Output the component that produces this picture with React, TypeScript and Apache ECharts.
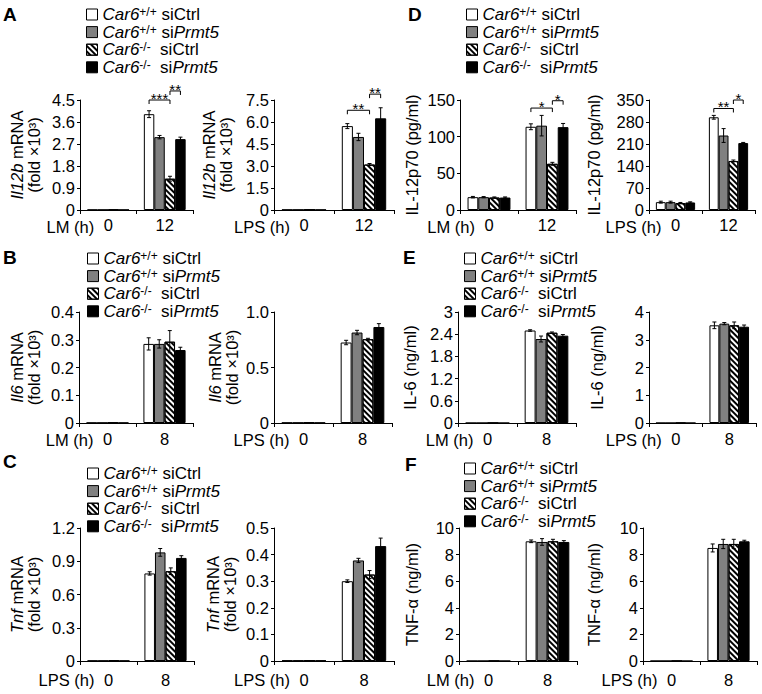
import React, { useEffect, useRef } from 'react';
import * as echarts from 'echarts';

const FONT = '"Liberation Sans", Arial, Helvetica, sans-serif';

const GROUPS = ['Car6+/+ siCtrl', 'Car6+/+ siPrmt5', 'Car6-/- siCtrl', 'Car6-/- siPrmt5'];
const GROUP_RICH: Record<string, string> = {
  'Car6+/+ siCtrl': '{i|Car6}{s|+/+}{n| siCtrl}',
  'Car6+/+ siPrmt5': '{i|Car6}{s|+/+}{n| si}{i|Prmt5}',
  'Car6-/- siCtrl': '{i|Car6}{s|-/-}{n|  siCtrl}',
  'Car6-/- siPrmt5': '{i|Car6}{s|-/-}{n|  si}{i|Prmt5}',
};

const HOURS_12 = ['0', '12'];
const HOURS_8 = ['0', '8'];

// rows = groups (in GROUPS order), columns = time points
const A_LM_MEAN = [[0.01, 3.92], [0.01, 2.98], [0.01, 1.28], [0.01, 2.9]];
const A_LM_ERR = [[0, 0.14], [0, 0.07], [0, 0.1], [0, 0.08]];
const A_LPS_MEAN = [[0.02, 5.72], [0.02, 4.98], [0.02, 3.1], [0.02, 6.25]];
const A_LPS_ERR = [[0, 0.17], [0, 0.25], [0, 0.07], [0, 0.72]];

const D_LM_MEAN = [[17.5, 113.5], [17.5, 115], [17, 63], [17, 113]];
const D_LM_ERR = [[1, 4], [0.8, 14], [0.8, 2], [0.8, 5]];
const D_LPS_MEAN = [[25, 295], [25, 237], [22, 156], [24, 213]];
const D_LPS_ERR = [[3, 6], [3, 22], [2, 3], [2, 2]];

const B_LM_MEAN = [[0.001, 0.285], [0.001, 0.285], [0.001, 0.293], [0.001, 0.263]];
const B_LM_ERR = [[0, 0.022], [0, 0.015], [0, 0.04], [0, 0.01]];
const B_LPS_MEAN = [[0.003, 0.725], [0.003, 0.815], [0.003, 0.755], [0.003, 0.865]];
const B_LPS_ERR = [[0, 0.02], [0, 0.02], [0, 0.008], [0, 0.03]];

const E_LM_MEAN = [[0, 2.5], [0, 2.27], [0, 2.44], [0, 2.36]];
const E_LM_ERR = [[0, 0.02], [0, 0.08], [0, 0.02], [0, 0.03]];
const E_LPS_MEAN = [[0, 3.52], [0, 3.58], [0, 3.52], [0, 3.47]];
const E_LPS_ERR = [[0, 0.12], [0, 0.04], [0, 0.12], [0, 0.06]];

const C_LPS1_MEAN = [[0.003, 0.79], [0.003, 0.98], [0.003, 0.81], [0.003, 0.93]];
const C_LPS1_ERR = [[0, 0.015], [0, 0.035], [0, 0.03], [0, 0.02]];
const C_LPS2_MEAN = [[0.002, 0.3], [0.002, 0.378], [0.002, 0.325], [0.002, 0.432]];
const C_LPS2_ERR = [[0, 0.005], [0, 0.008], [0, 0.015], [0, 0.03]];

const F_LM_MEAN = [[0, 9.0], [0, 8.95], [0, 9.0], [0, 8.95]];
const F_LM_ERR = [[0, 0.1], [0, 0.25], [0, 0.15], [0, 0.1]];
const F_LPS_MEAN = [[0, 8.5], [0, 8.8], [0, 8.8], [0, 9.0]];
const F_LPS_ERR = [[0, 0.3], [0, 0.35], [0, 0.35], [0, 0.08]];

// significance brackets: category index, bar from/to, bracket height (data units), stars
const A_LM_SIG = [
  { cat: 1, from: 0, to: 2, y: 4.5, stars: '***' },
  { cat: 1, from: 2, to: 3, y: 4.87, stars: '**' },
];
const A_LPS_SIG = [
  { cat: 1, from: 0, to: 2, y: 6.8, stars: '**' },
  { cat: 1, from: 2, to: 3, y: 7.9, stars: '**' },
];
const D_LM_SIG = [
  { cat: 1, from: 0, to: 2, y: 139, stars: '*' },
  { cat: 1, from: 2, to: 3, y: 149, stars: '*' },
];
const D_LPS_SIG = [
  { cat: 1, from: 0, to: 2, y: 323, stars: '**' },
  { cat: 1, from: 2, to: 3, y: 350, stars: '*' },
];

const CAT_GAP = 0.26;

const GENE_NAME = (g: string) => `{i|${g}}{n| mRNA}\n{n|(fold ×10³)}`;

type Panel = {
  grid: { left: number; top: number; width: number; height: number };
  cats: string[];
  mean: number[][];
  err: number[][];
  max: number;
  interval: number;
  dec: number | null;
  name: string;
  nameGap: number;
  stim: string;
  labelMargin: number;
  stimY: number;
  sig?: { cat: number; from: number; to: number; y: number; stars: string }[];
};

const PANELS: Panel[] = [
  { grid: { left: 80, top: 100, width: 113, height: 110 }, cats: HOURS_12, mean: A_LM_MEAN, err: A_LM_ERR, max: 4.5, interval: 0.9, dec: 1, name: GENE_NAME('Il12b'), nameGap: 38, stim: 'LM (h)', labelMargin: 6.5, stimY: 226.5, sig: A_LM_SIG },
  { grid: { left: 274, top: 100, width: 120, height: 110 }, cats: HOURS_12, mean: A_LPS_MEAN, err: A_LPS_ERR, max: 7.5, interval: 1.5, dec: 1, name: GENE_NAME('Il12b'), nameGap: 40, stim: 'LPS (h)', labelMargin: 6.5, stimY: 226.5, sig: A_LPS_SIG },
  { grid: { left: 460, top: 100, width: 116, height: 110 }, cats: HOURS_12, mean: D_LM_MEAN, err: D_LM_ERR, max: 150, interval: 50, dec: 0, name: '{n|IL-12p70 (pg/ml)}', nameGap: 40, stim: 'LM (h)', labelMargin: 6.5, stimY: 226.5, sig: D_LM_SIG },
  { grid: { left: 649, top: 100, width: 106, height: 110 }, cats: HOURS_12, mean: D_LPS_MEAN, err: D_LPS_ERR, max: 350, interval: 70, dec: 0, name: '{n|IL-12p70 (pg/ml)}', nameGap: 47, stim: 'LPS (h)', labelMargin: 6.5, stimY: 226.5, sig: D_LPS_SIG },

  { grid: { left: 79, top: 312, width: 114, height: 111 }, cats: HOURS_8, mean: B_LM_MEAN, err: B_LM_ERR, max: 0.4, interval: 0.1, dec: 1, name: GENE_NAME('Il6'), nameGap: 37, stim: 'LM (h)', labelMargin: 7.5, stimY: 440, sig: undefined },
  { grid: { left: 274, top: 312, width: 118, height: 111 }, cats: HOURS_8, mean: B_LPS_MEAN, err: B_LPS_ERR, max: 1.0, interval: 0.5, dec: 1, name: GENE_NAME('Il6'), nameGap: 34, stim: 'LPS (h)', labelMargin: 7.5, stimY: 440 },
  { grid: { left: 458, top: 312, width: 118, height: 111 }, cats: HOURS_8, mean: E_LM_MEAN, err: E_LM_ERR, max: 3, interval: 0.6, dec: null, name: '{n|IL-6 (ng/ml)}', nameGap: 40, stim: 'LM (h)', labelMargin: 7.5, stimY: 440 },
  { grid: { left: 649, top: 312, width: 107, height: 111 }, cats: HOURS_8, mean: E_LPS_MEAN, err: E_LPS_ERR, max: 4, interval: 1, dec: 0, name: '{n|IL-6 (ng/ml)}', nameGap: 44, stim: 'LPS (h)', labelMargin: 7.5, stimY: 440 },

  { grid: { left: 80, top: 528, width: 114, height: 133 }, cats: HOURS_8, mean: C_LPS1_MEAN, err: C_LPS1_ERR, max: 1.2, interval: 0.3, dec: 1, name: GENE_NAME('Tnf'), nameGap: 38, stim: 'LPS (h)', labelMargin: 10, stimY: 680 },
  { grid: { left: 274, top: 528, width: 120, height: 133 }, cats: HOURS_8, mean: C_LPS2_MEAN, err: C_LPS2_ERR, max: 0.5, interval: 0.1, dec: 1, name: GENE_NAME('Tnf'), nameGap: 36, stim: 'LPS (h)', labelMargin: 10, stimY: 680 },
  { grid: { left: 459, top: 528, width: 118, height: 133 }, cats: HOURS_8, mean: F_LM_MEAN, err: F_LM_ERR, max: 10, interval: 2, dec: 0, name: '{n|TNF-α (ng/ml)}', nameGap: 39, stim: 'LM (h)', labelMargin: 10, stimY: 680 },
  { grid: { left: 643, top: 528, width: 114, height: 133 }, cats: HOURS_8, mean: F_LPS_MEAN, err: F_LPS_ERR, max: 10, interval: 2, dec: 0, name: '{n|TNF-α (ng/ml)}', nameGap: 41, stim: 'LPS (h)', labelMargin: 10, stimY: 680 },
];

const LEGENDS = [
  { left: 86, top: 6 },
  { left: 466, top: 6 },
  { left: 87, top: 250 },
  { left: 464, top: 250 },
  { left: 87, top: 465 },
  { left: 464, top: 460 },
];

const LETTERS = [
  { t: 'A', x: 3, y: 5 },
  { t: 'D', x: 408, y: 5 },
  { t: 'B', x: 3, y: 248 },
  { t: 'E', x: 403, y: 248 },
  { t: 'C', x: 3, y: 452 },
  { t: 'F', x: 405, y: 455 },
];

const HATCH = {
  symbol: 'rect',
  symbolSize: 1,
  color: '#000',
  dashArrayX: [1, 0],
  dashArrayY: [1.6, 1.6],
  rotation: Math.PI / 4,
};

const GROUP_STYLES: any[] = [
  { color: '#ffffff', borderColor: '#000', borderWidth: 1 },
  { color: '#808080', borderColor: '#000', borderWidth: 1 },
  { color: '#ffffff', borderColor: '#000', borderWidth: 1, decal: HATCH },
  { color: '#000000', borderColor: '#000', borderWidth: 1 },
];

const TICK_FONT = 16.5;

function barX(api: any, cat: number, val: number, g: number) {
  const band = api.size([1, 0])[0];
  const groupW = band * (1 - CAT_GAP);
  const bw = groupW / 4;
  return api.coord([cat, val])[0] - groupW / 2 + bw * (g + 0.5);
}

function buildOption() {
  const grid: any[] = [];
  const xAxis: any[] = [];
  const yAxis: any[] = [];
  const series: any[] = [];
  const graphic: any[] = [];

  PANELS.forEach((p, k) => {
    grid.push({ ...p.grid, containLabel: false });
    xAxis.push({
      type: 'category',
      gridIndex: k,
      data: p.cats,
      axisLine: { show: true, lineStyle: { color: '#000', width: 1 } },
      axisTick: { show: true, length: 4, lineStyle: { color: '#000' } },
      axisLabel: { color: '#000', fontSize: TICK_FONT, fontFamily: FONT, margin: p.labelMargin },
    });
    yAxis.push({
      type: 'value',
      gridIndex: k,
      min: 0,
      max: p.max,
      interval: p.interval,
      axisLine: { show: true, lineStyle: { color: '#000', width: 1 } },
      axisTick: { show: true, length: 3, lineStyle: { color: '#000' } },
      splitLine: { show: false },
      axisLabel: {
        color: '#000',
        fontSize: TICK_FONT,
        fontFamily: FONT,
        margin: 5,
        lineHeight: 14,
        formatter: (v: number) =>
          v === 0 ? '0' : p.dec == null ? String(+v.toFixed(2)) : v.toFixed(p.dec),
      },
      name: p.name,
      nameLocation: 'middle',
      nameRotate: 90,
      nameGap: p.nameGap,
      nameTextStyle: {
        color: '#000',
        fontFamily: FONT,
        fontSize: 16.5,
        fontWeight: 'normal',
        lineHeight: 17,
        rich: {
          i: { fontStyle: 'italic', fontWeight: 'normal', fontSize: 16.5, fontFamily: FONT, color: '#000', lineHeight: 17 },
          n: { fontWeight: 'normal', fontSize: 16.5, fontFamily: FONT, color: '#000', lineHeight: 17 },
        },
      },
    });

    GROUPS.forEach((gName, g) => {
      series.push({
        type: 'bar',
        name: gName,
        xAxisIndex: k,
        yAxisIndex: k,
        data: p.mean[g],
        barGap: '0%',
        barCategoryGap: `${CAT_GAP * 100}%`,
        itemStyle: GROUP_STYLES[g],
        silent: true,
        z: 2,
      });
    });

    const errData: number[][] = [];
    p.cats.forEach((_, c) => {
      GROUPS.forEach((__, g) => {
        errData.push([c, g, p.mean[g][c], p.err[g][c]]);
      });
    });
    series.push({
      type: 'custom',
      xAxisIndex: k,
      yAxisIndex: k,
      silent: true,
      z: 4,
      encode: { x: 0, y: 2 },
      data: errData,
      renderItem: (_params: any, api: any) => {
        const c = api.value(0);
        const g = api.value(1);
        const m = api.value(2);
        const e = api.value(3);
        if (!(e > 0)) return { type: 'group', children: [] };
        const x = barX(api, c, m, g);
        const yT = api.coord([c, m + e])[1];
        const yB = api.coord([c, m - e])[1];
        const cap = 2;
        const st = { stroke: '#000', lineWidth: 1 };
        return {
          type: 'group',
          children: [
            { type: 'line', shape: { x1: x, y1: yT, x2: x, y2: yB }, style: st },
            { type: 'line', shape: { x1: x - cap, y1: yT, x2: x + cap, y2: yT }, style: st },
            { type: 'line', shape: { x1: x - cap, y1: yB, x2: x + cap, y2: yB }, style: st },
          ],
        };
      },
    });

    if (p.sig) {
      const sig = p.sig;
      series.push({
        type: 'custom',
        xAxisIndex: k,
        yAxisIndex: k,
        silent: true,
        z: 5,
        clip: false,
        encode: { x: 0, y: 1 },
        data: sig.map((s) => [s.cat, s.y]),
        renderItem: (params: any, api: any) => {
          const s = sig[params.dataIndex];
          const c = api.value(0);
          const yv = api.value(1);
          const x1 = barX(api, c, yv, s.from);
          const x2 = barX(api, c, yv, s.to);
          const y = api.coord([c, yv])[1];
          const tick = 4;
          return {
            type: 'group',
            children: [
              {
                type: 'polyline',
                shape: { points: [[x1, y + tick], [x1, y], [x2, y], [x2, y + tick]] },
                style: { stroke: '#000', lineWidth: 1, fill: null },
              },
              {
                type: 'text',
                x: (x1 + x2) / 2,
                y: y + 6,
                style: {
                  text: s.stars,
                  fill: '#000',
                  fontSize: 15,
                  fontFamily: FONT,
                  align: 'center',
                  verticalAlign: 'bottom',
                },
              },
            ],
          };
        },
      });
    }

    graphic.push({
      type: 'text',
      x: p.grid.left + p.grid.width / 4 - 14,
      y: p.stimY,
      style: {
        text: p.stim,
        fill: '#000',
        fontSize: TICK_FONT,
        lineHeight: 13,
        fontFamily: FONT,
        align: 'right',
        verticalAlign: 'middle',
      },
    });
  });

  LETTERS.forEach((l) => {
    graphic.push({
      type: 'text',
      x: l.x,
      y: l.y,
      style: {
        text: l.t,
        fill: '#000',
        fontSize: 19,
        fontWeight: 'bold',
        fontFamily: FONT,
        align: 'left',
        verticalAlign: 'top',
      },
    });
  });

  const legend = LEGENDS.map((L) => ({
    left: L.left,
    top: L.top,
    orient: 'vertical',
    icon: 'rect',
    itemWidth: 11,
    itemHeight: 11,
    itemGap: 0.6,
    selectedMode: false,
    padding: 0,
    data: GROUPS,
    itemStyle: { borderColor: '#000', borderWidth: 1 },
    formatter: (name: string) => GROUP_RICH[name],
    textStyle: {
      color: '#000',
      fontFamily: FONT,
      fontSize: 17,
      fontWeight: 'normal',
      lineHeight: 17,
      rich: {
        i: { fontStyle: 'italic', fontWeight: 'normal', fontSize: 17, fontFamily: FONT, color: '#000', lineHeight: 17 },
        n: { fontWeight: 'normal', fontSize: 17, fontFamily: FONT, color: '#000', lineHeight: 17 },
        s: { fontWeight: 'normal', fontSize: 12, fontFamily: FONT, color: '#000', lineHeight: 8, verticalAlign: 'top' },
      },
    },
  }));

  return {
    animation: false,
    backgroundColor: '#ffffff',
    textStyle: { fontFamily: FONT },
    grid,
    xAxis,
    yAxis,
    legend,
    series,
    graphic,
  };
}

export default function App() {
  const ref = useRef<HTMLDivElement>(null);
  useEffect(() => {
    if (!ref.current) return;
    const chart = echarts.init(ref.current, null, { renderer: 'svg' });
    chart.setOption(buildOption() as any);
    return () => chart.dispose();
  }, []);
  return (
    <div
      ref={ref}
      style={{ position: 'absolute', left: 0, top: 0, width: 762, height: 694, background: '#fff' }}
    />
  );
}
